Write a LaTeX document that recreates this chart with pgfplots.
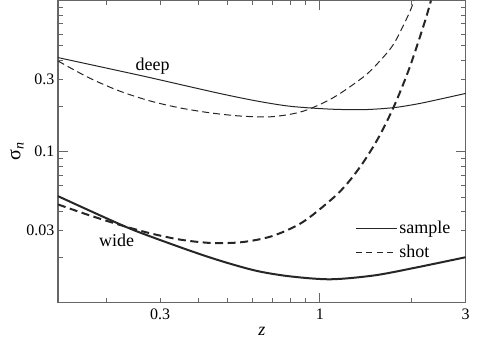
\documentclass[border=0pt]{standalone}
\usepackage{fontspec}
\setmainfont{Liberation Serif}
\usepackage{pgfplots}
\pgfplotsset{compat=1.18}

\begin{document}
\begin{tikzpicture}
\begin{axis}[
  xmode=log, ymode=log,
  scale only axis,
  width=407.7pt, height=302.2pt,
  xmin=0.139, xmax=3, ymin=0.01, ymax=1,
  xtick={1}, xticklabels={1},
  extra x ticks={0.3,3}, extra x tick labels={0.3,3},
  ytick={0.01,0.1,1}, yticklabels={,0.1,},
  extra y ticks={0.03,0.3}, extra y tick labels={0.03,0.3},
  extra tick style={major tick length=5pt},
  minor xtick={0.2,0.4,0.5,0.6,0.7,0.8,0.9,2},
  minor ytick={0.02,0.04,0.05,0.06,0.07,0.08,0.09,0.2,0.4,0.5,0.6,0.7,0.8,0.9},
  tick align=inside,
  major tick length=10pt, minor tick length=5pt,
  axis line style={black!60, line width=1.2pt},
  every tick/.style={black!60, line width=1pt},
  tick label style={font=\fontsize{16}{18}\selectfont},
  xticklabel style={yshift=-3pt},
  xlabel={\textit{z}}, ylabel={σ\textsubscript{\textit{n}}},
  xlabel style={font=\fontsize{18}{20}\selectfont},
  ylabel style={font=\fontsize{20}{22}\selectfont, yshift=-4pt},
  legend style={draw=none, fill=none, at={(0.975,0.207)}, anchor=east,
    font=\fontsize{18}{20}\selectfont, row sep=6pt},
  legend cell align=left,
  legend image code/.code={\draw[#1] (0pt,0pt) -- (41pt,0pt);},
]
\addlegendimage{black!85, line width=1pt}
\addlegendimage{black!85, line width=1pt, dash pattern=on 6pt off 4.5pt}

% deep, sample
\addplot[black!85, line width=1pt, smooth, forget plot] coordinates {
  (0.139,0.419) (0.2605,0.318) (0.38,0.2673) (0.484,0.2395) (0.623,0.216)
  (0.801,0.1995) (1.084,0.191) (1.4,0.1897) (1.75,0.1956) (2.1,0.2074)
  (2.49,0.2232) (3.0,0.2427)};
% deep, shot
\addplot[black!85, line width=1pt, dash pattern=on 7pt off 4pt, smooth, forget plot] coordinates {
  (0.139,0.398) (0.175,0.309) (0.2203,0.2523) (0.2773,0.2168) (0.3491,0.1945)
  (0.4395,0.1803) (0.5534,0.1718) (0.6966,0.1702) (0.877,0.1845) (1.104,0.2270)
  (1.390,0.3126) (1.560,0.3917) (1.750,0.5212) (1.963,0.8299) (2.03,1.0)};
% wide, sample
\addplot[black!85, line width=2pt, smooth, forget plot] coordinates {
  (0.139,0.0507) (0.2025,0.03585) (0.254,0.02946) (0.3763,0.02207) (0.4842,0.01866)
  (0.623,0.01622) (0.801,0.01493) (1.084,0.01429) (1.5,0.01514)
  (2.0,0.01687) (3.0,0.0200)};
% wide, shot
\addplot[black!85, line width=2pt, dash pattern=on 8pt off 4.5pt, smooth, forget plot] coordinates {
  (0.139,0.0447) (0.175,0.03805) (0.2203,0.03284) (0.2773,0.02886) (0.3491,0.02615)
  (0.4395,0.02486) (0.5534,0.02514) (0.6966,0.02756) (0.877,0.03406) (1.104,0.04925)
  (1.239,0.0627) (1.390,0.0855) (1.560,0.1251) (1.750,0.2006) (1.963,0.3567)
  (2.203,0.7202) (2.309,1.0)};

\legend{sample, shot}

\node[anchor=base, font=\fontsize{18}{20}\selectfont] at (axis cs:0.2836,0.345) {deep};
\node[anchor=base, font=\fontsize{18}{20}\selectfont] at (axis cs:0.216,0.0234) {wide};
\end{axis}
\pgfresetboundingbox
\path ([xshift=-58pt,yshift=-43.3pt]current axis.south west)
  rectangle ([xshift=19.3pt,yshift=0.5pt]current axis.north east);
\end{tikzpicture}
\end{document}
